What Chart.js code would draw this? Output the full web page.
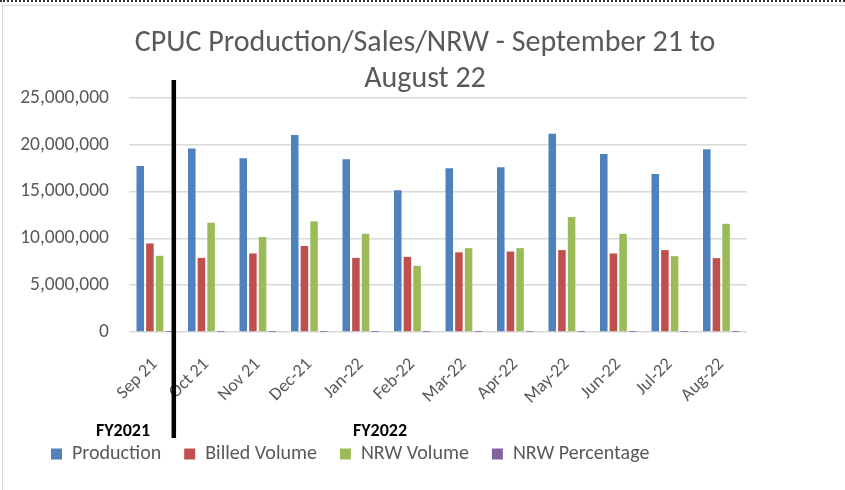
<!DOCTYPE html>
<html>
<head>
<meta charset="utf-8">
<title>CPUC Production/Sales/NRW</title>
<script src="https://cdn.jsdelivr.net/npm/chart.js@4.4.1/dist/chart.umd.min.js"></script>
<style>
  html, body { margin: 0; padding: 0; background: #fff; }
  .frame {
    position: relative;
    width: 845px;
    height: 490px;
    border-top: 2px dotted #333;
    box-sizing: border-box;
  }
  .frame::before {
    content: "";
    position: absolute;
    left: 2px; top: 3px; right: 0; bottom: 0;
    border-left: 1px solid #d9d9d9;
    border-top: 1px solid #d9d9d9;
    pointer-events: none;
  }
  canvas { position: absolute; left: 0; top: -2px; }
</style>
</head>
<body>
<div class="frame">
  <canvas id="chart" width="845" height="490"></canvas>
</div>
<script>
// Months, Sep 2021 - Aug 2022
const months = ["Sep 21", "Oct 21", "Nov 21", "Dec-21", "Jan-22", "Feb-22",
  "Mar-22", "Apr-22", "May-22", "Jun-22", "Jul-22", "Aug-22"]

// volumes
const production = [17740000, 19600000, 18560000, 21060000, 18460000, 15140000,
  17500000, 17600000, 21170000, 19030000, 16880000, 19530000]
const billedVolume = [9460000, 7920000, 8390000, 9200000, 7920000, 8030000,
  8510000, 8600000, 8750000, 8390000, 8750000, 7890000]
const nrwVolume = [8140000, 11670000, 10140000, 11820000, 10490000, 7070000,
  8960000, 8960000, 12280000, 10490000, 8100000, 11560000]
// share of production, too small to show on this axis
const nrwPercentage = [0.46, 0.60, 0.55, 0.56, 0.57, 0.47,
  0.51, 0.51, 0.58, 0.55, 0.48, 0.59]

const yTicks = [0, 5000000, 10000000, 15000000, 20000000, 25000000]

const FONT = "Carlito, Calibri, Lato, 'Liberation Sans', sans-serif"
const GREY_TEXT = "#595959"

// black divider between FY2021 and FY2022, plus the FY labels
const fiscalYears = {
  id: "fiscalYears",
  afterLayout(chart) {
    // legend starts further in than the axis labels
    chart.legend.left += 23
  },
  afterDraw(chart) {
    const ctx = chart.ctx
    const x = chart.scales.x
    const split = x.getPixelForValue(0) + 0.37 * (x.getPixelForValue(1) - x.getPixelForValue(0))
    ctx.save()
    ctx.strokeStyle = "#000"
    ctx.lineWidth = 4.5
    ctx.beginPath()
    ctx.moveTo(split, 80)
    ctx.lineTo(split, 438)
    ctx.stroke()

    ctx.fillStyle = "#000"
    ctx.font = "bold 18px " + FONT
    ctx.textBaseline = "middle"
    ctx.textAlign = "center"
    ctx.fillText("FY2021", 123, 431)
    ctx.fillText("FY2022", 380, 431)
    ctx.restore()
  }
}

new Chart(document.getElementById("chart"), {
  type: "bar",
  data: {
    labels: months,
    datasets: [
      { label: "Production", data: production, backgroundColor: "#4F81BD" },
      { label: "Billed Volume", data: billedVolume, backgroundColor: "#C0504D" },
      { label: "NRW Volume", data: nrwVolume, backgroundColor: "#9BBB59" },
      { label: "NRW Percentage", data: nrwPercentage, backgroundColor: "#8064A2", inflateAmount: 0 },
    ],
  },
  options: {
    responsive: false,
    animation: false,
    layout: { padding: { left: 5, right: 0, top: 5, bottom: 16 } },
    datasets: {
      bar: { categoryPercentage: 0.75, barPercentage: 0.78 },
    },
    plugins: {
      title: {
        display: true,
        text: ["CPUC Production/Sales/NRW - September 21 to", "August 22"],
        color: GREY_TEXT,
        font: { family: FONT, size: 30, weight: "normal", lineHeight: 1.2 },
        padding: { top: 20, bottom: 1 },
      },
      legend: {
        position: "bottom",
        align: "start",
        labels: {
          color: GREY_TEXT,
          font: { family: FONT, size: 20 },
          boxWidth: 11,
          boxHeight: 11,
          padding: 23,
        },
      },
      tooltip: { enabled: false },
    },
    scales: {
      x: {
        grid: { display: false },
        border: { display: false },
        afterFit(axis) { axis.height = 89 },
        ticks: {
          color: GREY_TEXT,
          font: { family: FONT, size: 18 },
          maxRotation: 45,
          minRotation: 45,
          padding: 14,
        },
      },
      y: {
        min: 0,
        max: 25000000,
        afterBuildTicks(axis) {
          axis.ticks = yTicks.map((v) => ({ value: v }))
        },
        afterFit(axis) { axis.width = 124 },
        grid: { color: "#d9d9d9", lineWidth: 1.5, drawTicks: false },
        border: { display: false },
        ticks: {
          color: GREY_TEXT,
          font: { family: FONT, size: 19.5 },
          padding: 20,
          callback: (v) => v.toLocaleString("en-US"),
        },
      },
      // empty space on the right of the plot
      yRight: {
        position: "right",
        grid: { display: false },
        border: { display: false },
        ticks: { display: false },
        afterFit(axis) { axis.width = 98 },
      },
    },
  },
  plugins: [fiscalYears],
})
</script>
</body>
</html>
